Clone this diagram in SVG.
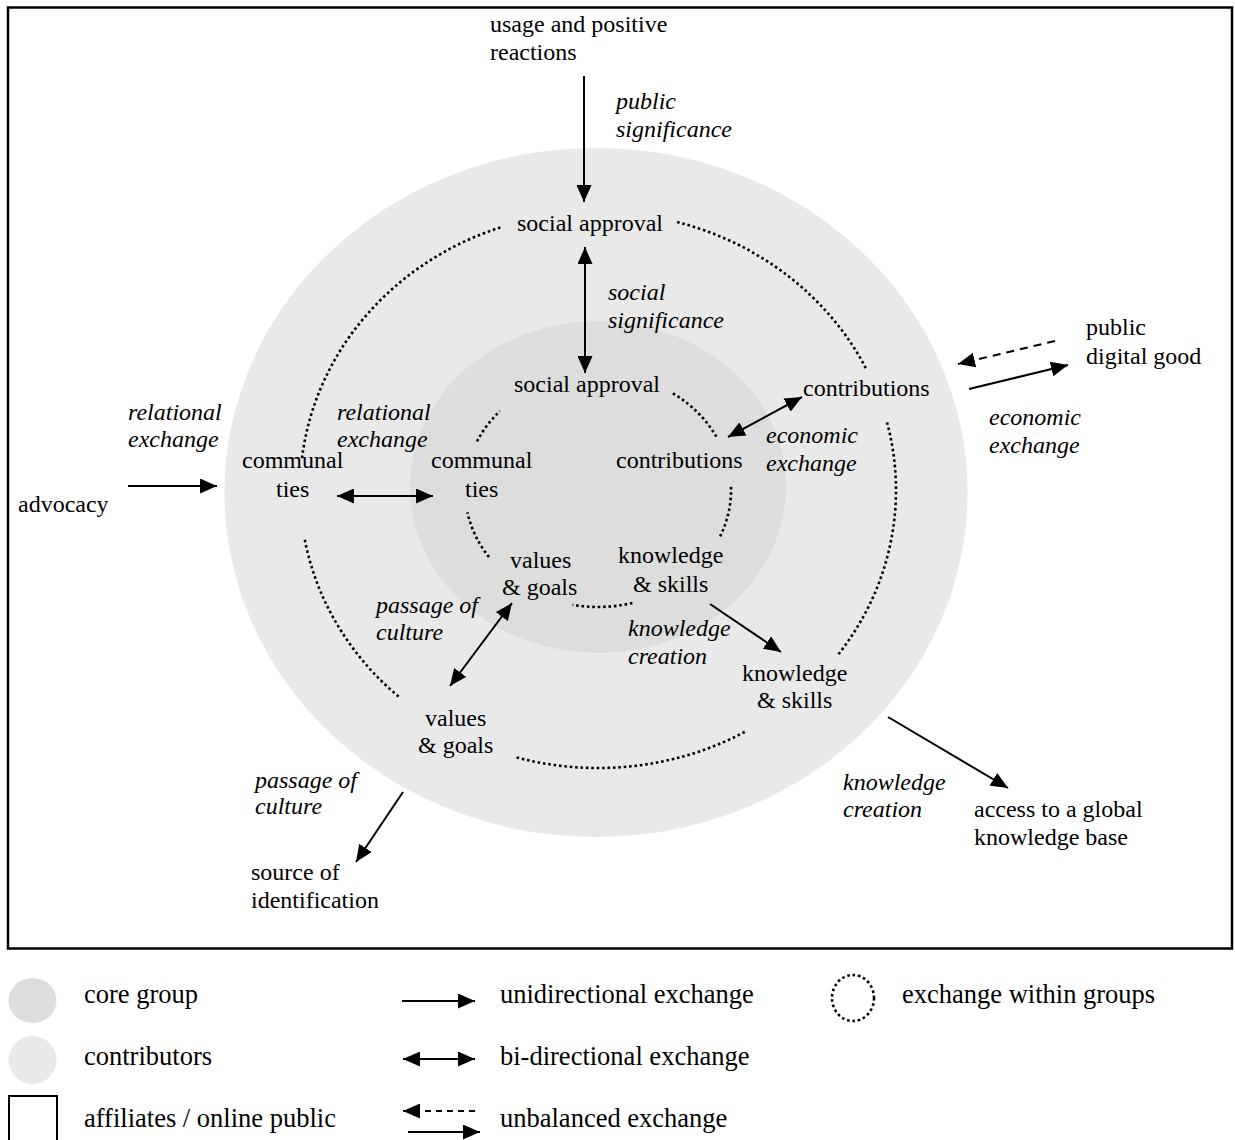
<svg xmlns="http://www.w3.org/2000/svg" width="1235" height="1140" viewBox="0 0 1235 1140">
<style>
text{font-family:"Liberation Serif","Times New Roman",serif;font-size:24px;fill:#000}
.i{font-style:italic}
.lg{font-size:26.5px}
.ln{stroke:#000;stroke-width:2;fill:none}
.dash{stroke-dasharray:8 6}
.dot{stroke:#000;stroke-width:2.6;fill:none;stroke-dasharray:2.6 2.8}
</style>
<defs>
<marker id="ah" viewBox="0 0 17 15" refX="17" refY="7.5" markerWidth="17" markerHeight="15" orient="auto-start-reverse" markerUnits="userSpaceOnUse">
<path d="M0,0 L17,7.5 L0,15 Z" fill="#000"/>
</marker>
</defs>
<rect x="0" y="0" width="1235" height="1140" fill="#fff"/>
<rect id="affiliates" x="8" y="7.5" width="1224" height="941" fill="none" stroke="#000" stroke-width="2.5"/>
<ellipse id="contributors" cx="596" cy="492.5" rx="371.5" ry="344.5" fill="#e9e9e9"/>
<ellipse id="core" cx="598" cy="487" rx="188" ry="166" fill="#dddddd"/>

<g id="dotted-arcs">
<path class="dot" d="M302,458.1 A298,278 0 0 1 501,227.2"/>
<path class="dot" d="M677.1,222 A298,278 0 0 1 865.8,368.1"/>
<path class="dot" d="M887,422.3 A298,278 0 0 1 837.9,655"/>
<path class="dot" d="M744.7,732 A298,278 0 0 1 514.9,757"/>
<path class="dot" d="M398.6,696.6 A298,278 0 0 1 304.5,538.3"/>
<path class="dot" d="M477,441.5 A133,117 0 0 1 499.9,411"/>
<path class="dot" d="M672.9,393.3 A133,117 0 0 1 717,437.8"/>
<path class="dot" d="M731,486.9 A133,117 0 0 1 719.5,537.6"/>
<path class="dot" d="M632.4,603 A133,117 0 0 1 572.6,604.8"/>
<path class="dot" d="M489,557.1 A133,117 0 0 1 467.4,512.3"/>
</g>

<g id="connectors">
<line class="ln" x1="584" y1="76" x2="584" y2="202" marker-end="url(#ah)"/>
<line class="ln" x1="585" y1="247" x2="585" y2="373" marker-start="url(#ah)" marker-end="url(#ah)"/>
<line class="ln" x1="802" y1="397" x2="728" y2="437" marker-start="url(#ah)" marker-end="url(#ah)"/>
<line class="ln" x1="128" y1="486" x2="217" y2="486" marker-end="url(#ah)"/>
<line class="ln" x1="337" y1="496" x2="433" y2="496" marker-start="url(#ah)" marker-end="url(#ah)"/>
<line class="ln" x1="512" y1="603" x2="450" y2="686" marker-start="url(#ah)" marker-end="url(#ah)"/>
<line class="ln" x1="710" y1="604" x2="781" y2="652" marker-end="url(#ah)"/>
<line class="ln dash" x1="1055" y1="341" x2="958" y2="364" marker-end="url(#ah)"/>
<line class="ln" x1="969" y1="389" x2="1068" y2="365" marker-end="url(#ah)"/>
<line class="ln" x1="888" y1="717" x2="1008" y2="788" marker-end="url(#ah)"/>
<line class="ln" x1="403" y1="792" x2="356" y2="862" marker-end="url(#ah)"/>
</g>

<g id="n-usage"><text x="490" y="32">usage and positive</text><text x="490" y="60">reactions</text></g>
<g id="l-public-significance"><text class="i" x="616" y="109">public</text><text class="i" x="616" y="137">significance</text></g>
<g id="n-social-approval-outer"><text x="517" y="231">social approval</text></g>
<g id="l-social-significance"><text class="i" x="608" y="300">social</text><text class="i" x="608" y="328">significance</text></g>
<g id="n-social-approval-inner"><text x="514" y="392">social approval</text></g>
<g id="n-contributions-outer"><text x="803" y="396">contributions</text></g>
<g id="n-public-digital-good"><text x="1086" y="335">public</text><text x="1086" y="364">digital good</text></g>
<g id="l-economic-outer"><text class="i" x="989" y="425">economic</text><text class="i" x="989" y="453">exchange</text></g>
<g id="l-economic-inner"><text class="i" x="766" y="443">economic</text><text class="i" x="766" y="471">exchange</text></g>
<g id="n-contributions-inner"><text x="616" y="468">contributions</text></g>
<g id="l-relational-outer"><text class="i" x="128" y="420">relational</text><text class="i" x="128" y="447">exchange</text></g>
<g id="l-relational-inner"><text class="i" x="337" y="420">relational</text><text class="i" x="337" y="447">exchange</text></g>
<g id="n-communal-outer"><text x="242" y="468">communal</text><text x="276" y="497">ties</text></g>
<g id="n-communal-inner"><text x="431" y="468">communal</text><text x="465" y="497">ties</text></g>
<g id="n-advocacy"><text x="18" y="512">advocacy</text></g>
<g id="n-values-inner"><text x="510" y="568">values</text><text x="502" y="595">&amp; goals</text></g>
<g id="n-knowledge-inner"><text x="618" y="563">knowledge</text><text x="633" y="592">&amp; skills</text></g>
<g id="l-passage-inner"><text class="i" x="376" y="613">passage of</text><text class="i" x="376" y="640">culture</text></g>
<g id="l-knowledge-inner"><text class="i" x="628" y="636">knowledge</text><text class="i" x="628" y="664">creation</text></g>
<g id="n-knowledge-outer"><text x="742" y="681">knowledge</text><text x="757" y="708">&amp; skills</text></g>
<g id="n-values-outer"><text x="425" y="726">values</text><text x="418" y="753">&amp; goals</text></g>
<g id="l-passage-outer"><text class="i" x="255" y="788">passage of</text><text class="i" x="255" y="814">culture</text></g>
<g id="l-knowledge-outer"><text class="i" x="843" y="790">knowledge</text><text class="i" x="843" y="817">creation</text></g>
<g id="n-access"><text x="974" y="817">access to a global</text><text x="974" y="845">knowledge base</text></g>
<g id="n-source"><text x="251" y="880">source of</text><text x="251" y="908">identification</text></g>

<g id="legend">
<ellipse cx="32.5" cy="1000.5" rx="24" ry="22.5" fill="#dddddd"/>
<text class="lg" x="84" y="1003">core group</text>
<ellipse cx="32.5" cy="1060" rx="24" ry="24" fill="#e9e9e9"/>
<text class="lg" x="84" y="1065">contributors</text>
<rect x="9" y="1096" width="48" height="60" fill="none" stroke="#000" stroke-width="2"/>
<text class="lg" x="84" y="1127">affiliates / online public</text>
<line class="ln" x1="402" y1="1001" x2="475" y2="1001" marker-end="url(#ah)"/>
<text class="lg" x="500" y="1003">unidirectional exchange</text>
<line class="ln" x1="403" y1="1059" x2="475" y2="1059" marker-start="url(#ah)" marker-end="url(#ah)"/>
<text class="lg" x="500" y="1065">bi-directional exchange</text>
<line class="ln dash" x1="475" y1="1111" x2="403" y2="1111" marker-end="url(#ah)" style="stroke-dasharray:6 5"/>
<line class="ln" x1="408" y1="1132" x2="480" y2="1132" marker-end="url(#ah)"/>
<text class="lg" x="500" y="1127">unbalanced exchange</text>
<ellipse class="dot" cx="853" cy="998" rx="21" ry="23"/>
<text class="lg" x="902" y="1003">exchange within groups</text>
</g>
</svg>
